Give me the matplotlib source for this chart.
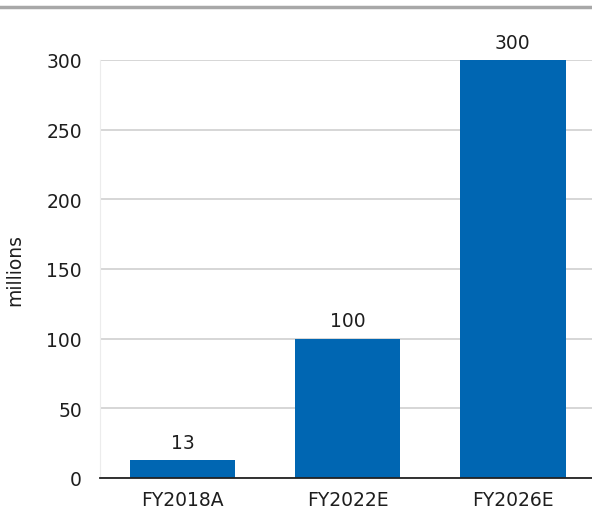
import matplotlib
matplotlib.use("Agg")
import matplotlib.pyplot as plt
from matplotlib.lines import Line2D

categories = ["FY2018A", "FY2022E", "FY2026E"]
values = [13, 100, 300]
y_ticks = [0, 50, 100, 150, 200, 250, 300]

BAR_COLOR = "#0066b2"
GRID_COLOR = "#cccccc"
TEXT_COLOR = "#1e1e1e"
FS = 13.5

plt.rcParams["font.family"] = ["DejaVu Sans"]

fig = plt.figure(figsize=(5.92, 5.10), dpi=100)
ax = fig.add_axes([100 / 592, 31 / 510, 492 / 592, 418 / 510])

x = list(range(len(categories)))
ax.bar(x, values, width=0.64, color=BAR_COLOR, zorder=3)

for xi, v in zip(x, values):
    ax.annotate(f"{v}", (xi, v), xytext=(0, 6), textcoords="offset points",
                ha="center", va="bottom", fontsize=FS, color=TEXT_COLOR,
                annotation_clip=False)

ax.set_xlim(-0.5, 2.48)
ax.set_ylim(0, 300)
ax.set_yticks(y_ticks)
ax.set_xticks(x)
ax.set_xticklabels(categories)
ax.tick_params(axis="y", length=0, pad=13, labelsize=FS, labelcolor=TEXT_COLOR)
ax.tick_params(axis="x", length=0, pad=9, labelsize=FS, labelcolor=TEXT_COLOR)

ax.grid(axis="y", color=GRID_COLOR, linewidth=1.1, zorder=0)
ax.set_axisbelow(True)

for side in ("top", "right"):
    ax.spines[side].set_visible(False)
ax.spines["left"].set_color("#ececec")
ax.spines["left"].set_linewidth(0.8)
ax.spines["bottom"].set_color("#222222")
ax.spines["bottom"].set_linewidth(1.3)
ax.spines["bottom"].set_zorder(4)

ax.set_ylabel("millions", fontsize=FS, color=TEXT_COLOR)
ax.yaxis.set_label_coords(-76 / 492, 0.5)

# gray rule across the top of the figure
fig.add_artist(Line2D([0, 1], [1 - 8 / 510, 1 - 8 / 510], transform=fig.transFigure,
                      color="#a8a8a8", linewidth=2.5))

fig.savefig("out.png", dpi=100)
